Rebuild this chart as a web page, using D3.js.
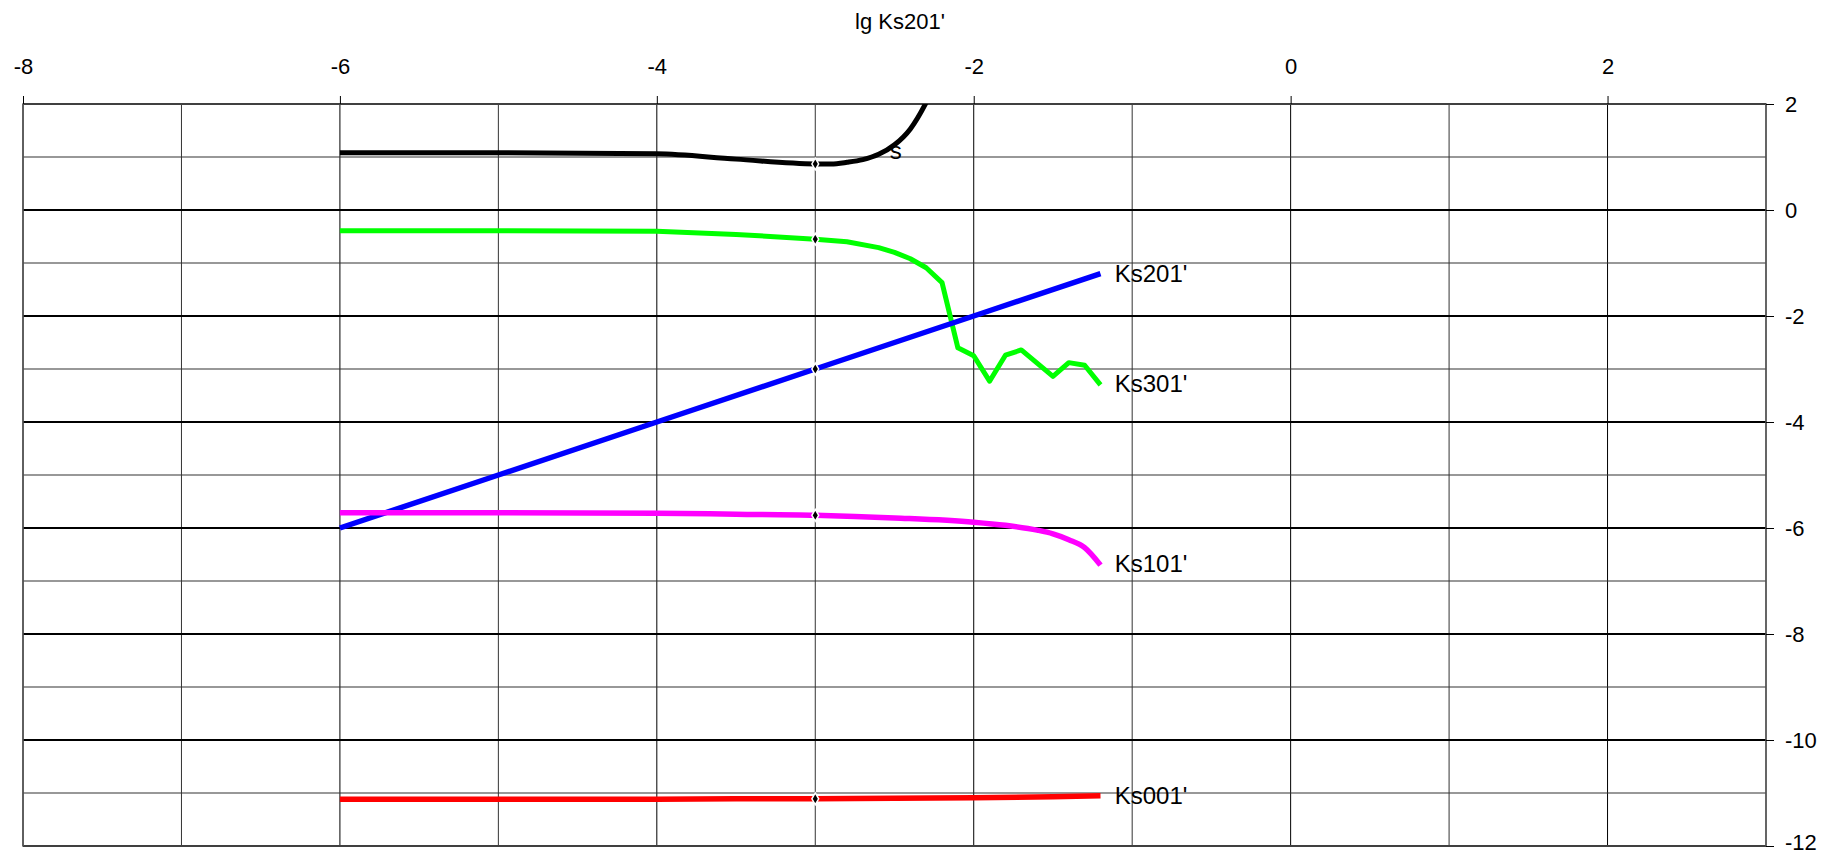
<!DOCTYPE html>
<meta charset="utf-8">
<html>
<script src="https://d3js.org/d3.v7.min.js"></script>
<style>
  body { margin: 0; background: #fff; }
  text { font-family: "Liberation Sans", Arial, sans-serif; }
</style>
<div id="chart"></div>
<script>

// x tick labels / y tick labels
var xTicks = [-8, -6, -4, -2, 0, 2];
var yTicks = [2, 0, -2, -4, -6, -8, -10, -12];

// series: s
var sX = [-6, -5, -4, -3.5, -3, -2.9, -2.8, -2.7, -2.6, -2.5, -2.4, -2.3, -2.2];
var sY = [1.08, 1.08, 1.06, 0.96, 0.87, 0.87, 0.90, 0.95, 1.05, 1.23, 1.53, 2.03, 2.7];

// series: Ks301'
var k301X = [-6, -5, -4, -3.5, -3, -2.8, -2.6, -2.5, -2.4, -2.3, -2.2, -2.1, -2.0, -1.9, -1.8, -1.7, -1.6, -1.5, -1.4, -1.3, -1.2];
var k301Y = [-0.39, -0.39, -0.40, -0.46, -0.55, -0.60, -0.71, -0.80, -0.92, -1.09, -1.37, -2.60, -2.75, -3.23, -2.74, -2.64, -2.89, -3.14, -2.88, -2.93, -3.30];

// series: Ks201'
var k201X = [-6, -5, -4, -3, -2, -1.2];
var k201Y = [-6, -5, -4, -3, -2, -1.2];

// series: Ks101'
var k101X = [-6, -5, -4, -3.5, -3, -2.5, -2, -1.8, -1.6, -1.5, -1.4, -1.3, -1.2];
var k101Y = [-5.71, -5.71, -5.72, -5.74, -5.76, -5.81, -5.89, -5.95, -6.04, -6.11, -6.22, -6.37, -6.70];

// series: Ks001'
var k001X = [-6, -5, -4, -3.5, -3, -2.5, -2, -1.5, -1.2];
var k001Y = [-11.12, -11.12, -11.12, -11.11, -11.11, -11.10, -11.09, -11.07, -11.05];

var width = 1827,
    height = 856;

var svg = d3.select("#chart")
  .append("svg")
    .attr("width", width)
    .attr("height", height);

var x = d3.scaleLinear().domain([-8, 3]).range([23, 1766]);
var y = d3.scaleLinear().domain([-12, 2]).range([846, 104]);

// grid lines, one per unit
svg.append("g").selectAll("line.vg")
  .data(d3.range(-8, 4))
  .enter().append("line")
    .attr("x1", function(d) { return x(d); })
    .attr("x2", function(d) { return x(d); })
    .attr("y1", y(2))
    .attr("y2", y(-12))
    .attr("stroke", function(d) { return d % 2 === 0 ? "#000" : "#333"; })
    .attr("stroke-width", 1);

svg.append("g").selectAll("line.hg")
  .data(d3.range(-12, 3))
  .enter().append("line")
    .attr("x1", x(-8))
    .attr("x2", x(3))
    .attr("y1", function(d) { return y(d); })
    .attr("y2", function(d) { return y(d); })
    .attr("stroke", function(d) { return d % 2 === 0 ? "#000" : "#333"; })
    .attr("stroke-width", function(d) { return d % 2 === 0 ? 2 : 1.2; });

// frame
svg.append("rect")
  .attr("x", x(-8))
  .attr("y", y(2))
  .attr("width", x(3) - x(-8))
  .attr("height", y(-12) - y(2))
  .attr("fill", "none")
  .attr("stroke", "#555")
  .attr("stroke-width", 1.5);

// top axis
var xAxis = svg.append("g")
  .attr("transform", "translate(0," + y(2) + ")")
  .call(d3.axisTop(x).tickValues(xTicks).tickSize(8).tickPadding(22).tickFormat(function(d) { return String(d); }));
xAxis.select(".domain").remove();
xAxis.selectAll("line").attr("stroke", "#000");
xAxis.selectAll("text")
  .attr("font-size", 22)
  .attr("fill", "#000")
  .style("font-family", "'Liberation Sans', Arial, sans-serif");

// right axis
var yAxis = svg.append("g")
  .attr("transform", "translate(" + x(3) + ",0)")
  .call(d3.axisRight(y).tickValues(yTicks).tickSize(8).tickPadding(11).tickFormat(function(d) { return String(d); }));
yAxis.select(".domain").remove();
yAxis.selectAll("line").attr("stroke", "#000");
yAxis.selectAll("text")
  .attr("font-size", 22)
  .attr("fill", "#000")
  .attr("dy", function(d) { return d === -12 ? "0.15em" : "0.32em"; })
  .style("font-family", "'Liberation Sans', Arial, sans-serif");

// title
svg.append("text")
  .attr("x", 900)
  .attr("y", 21)
  .attr("dy", "0.35em")
  .attr("text-anchor", "middle")
  .attr("font-size", 22)
  .attr("fill", "#000")
  .text("lg Ks201'");

// clip to plot area
svg.append("clipPath").attr("id", "plotclip")
  .append("rect")
    .attr("x", x(-8))
    .attr("y", y(2))
    .attr("width", x(3) - x(-8))
    .attr("height", y(-12) - y(2));

var series = [
  { name: "s", xs: sX, ys: sY, color: "#000000", w: 5, curve: d3.curveMonotoneX, label: "s", lx: -2.53, ly: 1.12 },
  { name: "Ks301'", xs: k301X, ys: k301Y, color: "#00ff00", w: 5, curve: d3.curveLinear, label: "Ks301'", lx: -1.11, ly: -3.28 },
  { name: "Ks201'", xs: k201X, ys: k201Y, color: "#0000ff", w: 5.5, curve: d3.curveLinear, label: "Ks201'", lx: -1.11, ly: -1.2 },
  { name: "Ks101'", xs: k101X, ys: k101Y, color: "#ff00ff", w: 5.5, curve: d3.curveMonotoneX, label: "Ks101'", lx: -1.11, ly: -6.68 },
  { name: "Ks001'", xs: k001X, ys: k001Y, color: "#ff0000", w: 5.5, curve: d3.curveLinear, label: "Ks001'", lx: -1.11, ly: -11.05 }
];

var plot = svg.append("g").attr("clip-path", "url(#plotclip)");

series.forEach(function(s) {
  var pts = s.xs.map(function(v, i) { return [v, s.ys[i]]; });
  var line = d3.line()
    .x(function(d) { return x(d[0]); })
    .y(function(d) { return y(d[1]); })
    .curve(s.curve);
  plot.append("path")
    .attr("d", line(pts))
    .attr("fill", "none")
    .attr("stroke", s.color)
    .attr("stroke-width", s.w)
    .attr("stroke-linejoin", "round");

  // marker at x = -3
  var i3 = s.xs.indexOf(-3);
  plot.append("path")
    .attr("d", d3.symbol().type(d3.symbolDiamond).size(40)())
    .attr("transform", "translate(" + x(s.xs[i3]) + "," + y(s.ys[i3]) + ")")
    .attr("fill", "#000")
    .attr("stroke", "#fff")
    .attr("stroke-width", 1.5);

  svg.append("text")
    .attr("x", x(s.lx))
    .attr("y", y(s.ly))
    .attr("dy", "0.35em")
    .attr("font-size", 24)
    .attr("fill", "#000")
    .text(s.label);
});
</script>
</html>
